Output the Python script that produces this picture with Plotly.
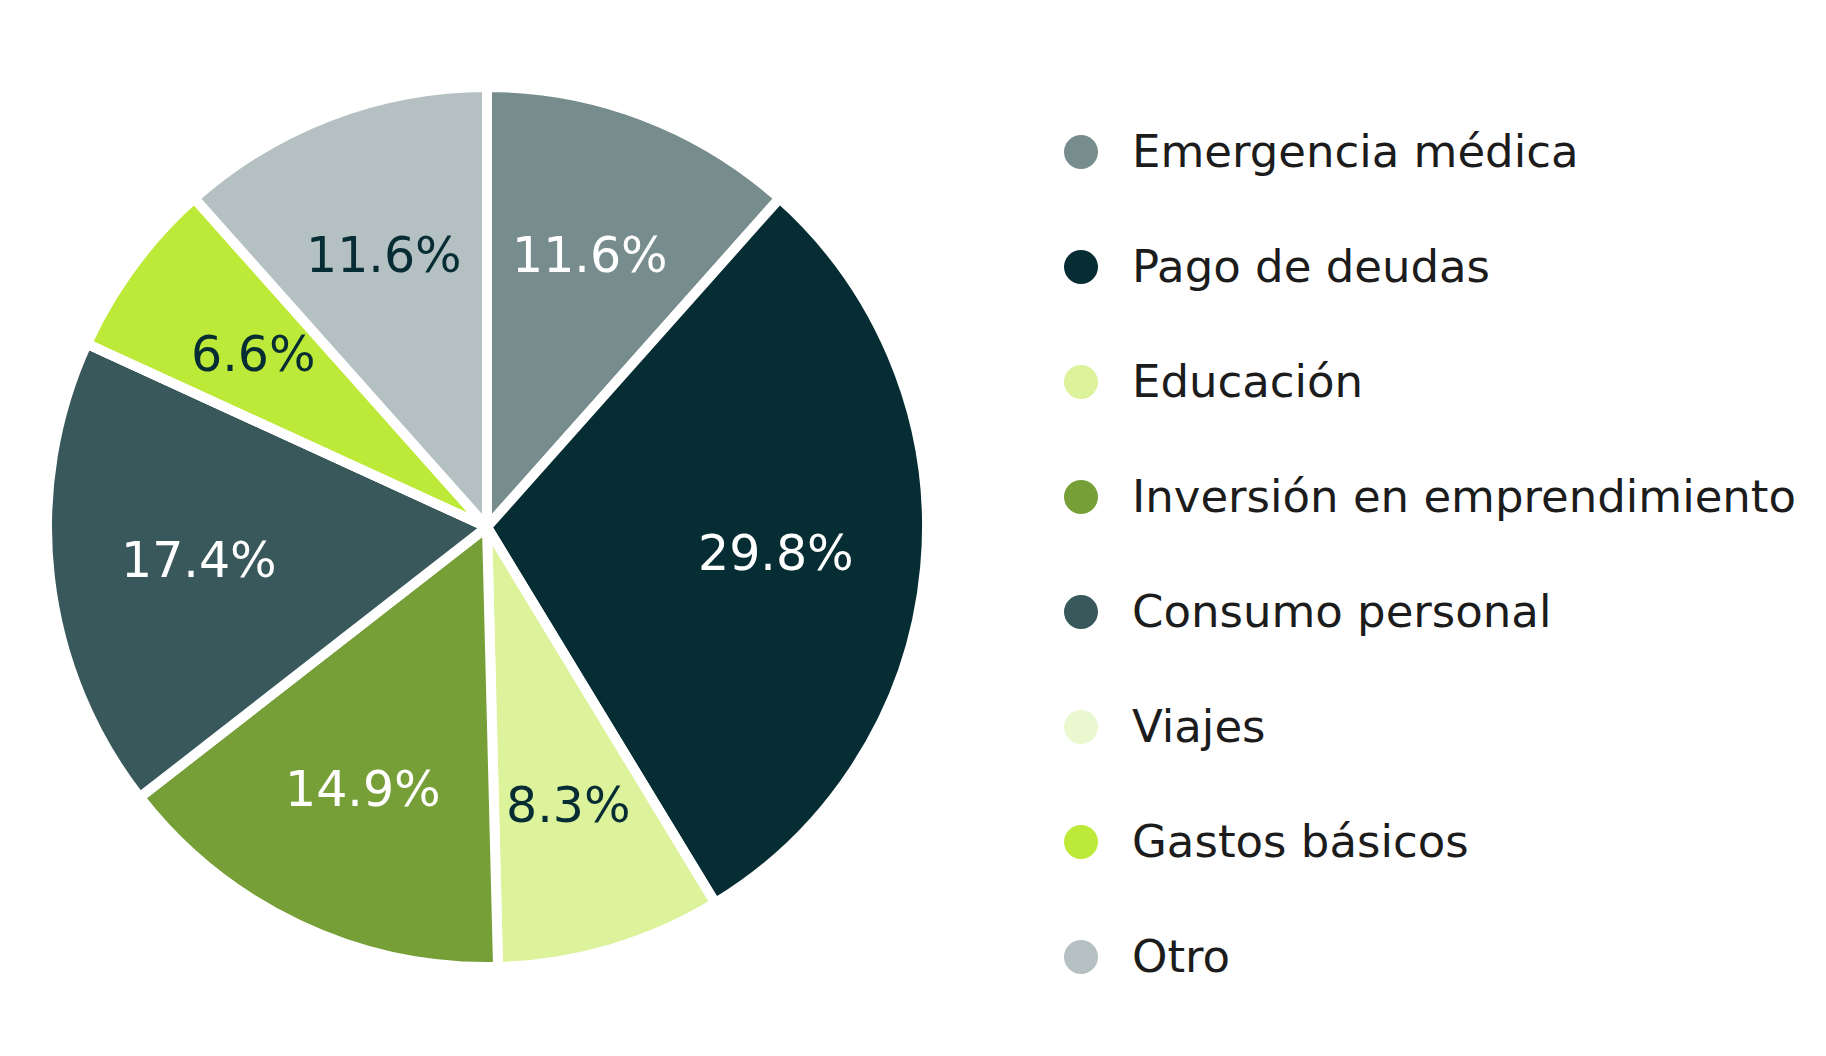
import math
import plotly.graph_objects as go

categories = ["Emergencia médica", "Pago de deudas", "Educación", "Inversión en emprendimiento",
              "Consumo personal", "Viajes", "Gastos básicos", "Otro"]
values = [11.6, 29.8, 8.3, 14.9, 17.4, 0.0, 6.6, 11.6]
colors = ["#778c8d", "#062d33", "#dcf29b", "#769f37", "#38585c", "#eaf8cf", "#bde938", "#b4c0c1"]
label_colors = ["#ffffff", "#ffffff", "#062d33", "#ffffff", "#ffffff", "#062d33", "#062d33", "#062d33"]

W, H = 1826, 1056
FONT = "DejaVu Sans"
CX, CY, R = 487, 527, 440      # pie centre / radius in pixels
LABEL_FRAC = 0.66               # label distance as fraction of radius
TEXT_DY = 0.03                  # small vertical nudge of legend text (axis units)

fig = go.Figure()
fig.add_trace(go.Pie(
    labels=categories, values=values, textinfo="none",
    sort=False, direction="clockwise", rotation=0,
    marker=dict(colors=colors, line=dict(color="#ffffff", width=10)),
    domain=dict(x=[(CX - R) / W, (CX + R) / W], y=[(H - CY - R) / H, (H - CY + R) / H]),
    showlegend=False, hoverinfo="label+value",
))

# percentage labels placed along each slice's mid angle
total = sum(values)
cum = 0.0
for v, col in zip(values, label_colors):
    if v > 0:
        theta = 2 * math.pi * (cum + v / 2) / total
        px = CX + LABEL_FRAC * R * math.sin(theta)
        py = CY - LABEL_FRAC * R * math.cos(theta)
        fig.add_annotation(
            x=px / W, y=1 - py / H, xref="paper", yref="paper",
            text=f"{v:.1f}%", showarrow=False, xanchor="center", yanchor="middle",
            font=dict(family=FONT, size=49, color=col),
        )
    cum += v

# custom legend with round markers
idx = list(range(len(categories)))
fig.add_trace(go.Scatter(
    x=[1081] * len(categories), y=idx, mode="markers",
    marker=dict(size=34, color=colors, line=dict(width=0)),
    showlegend=False, hoverinfo="skip",
))
fig.add_trace(go.Scatter(
    x=[1132] * len(categories), y=[i + TEXT_DY for i in idx], mode="text", text=categories,
    textposition="middle right", textfont=dict(family=FONT, size=45, color="#1c1c1c"),
    showlegend=False, hoverinfo="skip",
))

fig.update_layout(
    width=W, height=H, margin=dict(l=0, r=0, t=0, b=0),
    paper_bgcolor="white", plot_bgcolor="rgba(0,0,0,0)",
    xaxis=dict(range=[0, W], domain=[0, 1], visible=False, fixedrange=True),
    yaxis=dict(range=[(H - 152) / 115, -152 / 115], domain=[0, 1], visible=False, fixedrange=True),
    font=dict(family=FONT),
)

fig.write_html("out.html", config={"displayModeBar": False},
               post_script="document.body.style.margin='0px';")
